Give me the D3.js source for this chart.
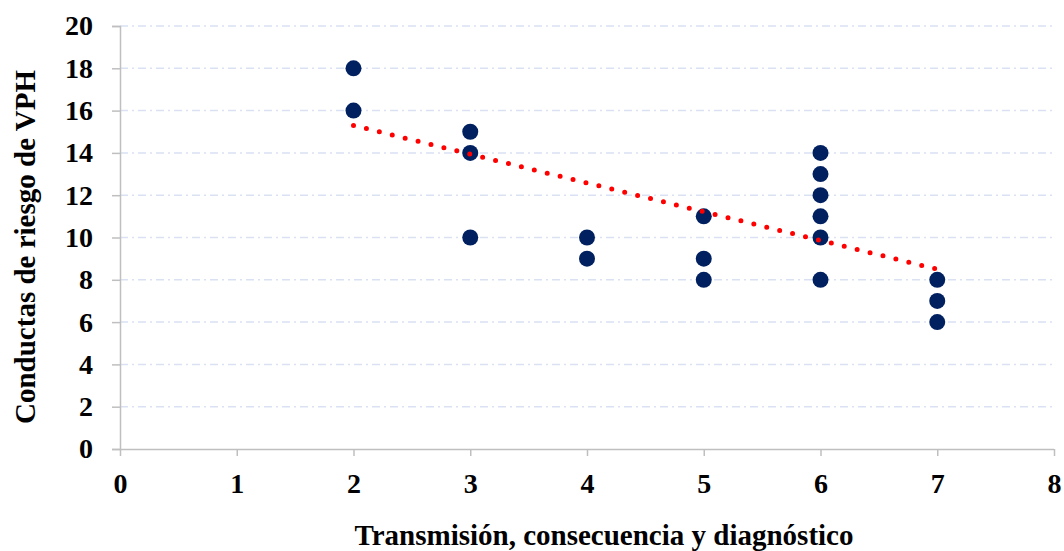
<!DOCTYPE html>
<html>
<head>
<meta charset="utf-8">
<script src="https://cdn.jsdelivr.net/npm/d3@7"></script>
<style>
  body { margin: 0; background: #fff; }
  text { font-family: "Liberation Serif", "Times New Roman", serif; font-weight: bold; fill: #000; }
</style>
</head>
<body>
<svg id="chart" width="1064" height="551"></svg>
<script>
// puntos
const xVals = [2, 2, 3, 3, 3, 4, 4, 5, 5, 5, 6, 6, 6, 6, 6, 6, 7, 7, 7];
const yVals = [18, 16, 15, 14, 10, 10, 9, 11, 9, 8, 14, 13, 12, 11, 10, 8, 8, 7, 6];
// línea de tendencia (extremos estimados)
const trendX = [2, 7];
const trendY = [15.3, 8.5];
const xTicks = [0, 1, 2, 3, 4, 5, 6, 7, 8];
const yTicks = [0, 2, 4, 6, 8, 10, 12, 14, 16, 18, 20];

const svg = d3.select('#chart');
const margin = {left: 120, right: 10, top: 26, bottom: 102};
const W = 1064, H = 551;
const x = d3.scaleLinear().domain([0, 8]).range([margin.left, W - margin.right]);
const y = d3.scaleLinear().domain([0, 20]).range([H - margin.bottom, margin.top]);

// grid
svg.append('g').selectAll('line').data(yTicks.filter(d => d > 0)).enter().append('line')
  .attr('x1', x(0)).attr('x2', x(8))
  .attr('y1', d => y(d)).attr('y2', d => y(d))
  .attr('stroke', '#d9e1f2').attr('stroke-width', 1.5)
  .attr('stroke-dasharray', '8,4,2,4');

// axes
const yAxis = svg.append('g').attr('transform', `translate(${x(0)},0)`)
  .call(d3.axisLeft(y).tickValues(yTicks).tickSize(8).tickPadding(19));
const xAxis = svg.append('g').attr('transform', `translate(0,${y(0)})`)
  .call(d3.axisBottom(x).tickValues(xTicks).tickSize(7).tickPadding(17));
[xAxis, yAxis].forEach(a => {
  a.select('.domain').attr('stroke', '#bfbfbf').attr('stroke-width', 1.5);
  a.selectAll('.tick line').attr('stroke', '#bfbfbf').attr('stroke-width', 1.5);
  a.selectAll('.tick text').style('font-family', '"Liberation Serif", serif')
    .style('font-weight', 'bold').style('font-size', '28px').attr('fill', '#000');
});
xAxis.select('.domain').attr('d', `M${x(0)},0.5H${x(8)}`);

// points
const pts = xVals.map((v, i) => ({x: v, y: yVals[i]}));
svg.append('g').selectAll('circle').data(pts).enter().append('circle')
  .attr('cx', d => x(d.x)).attr('cy', d => y(d.y)).attr('r', 8)
  .attr('fill', '#002060');

// trend
svg.append('path')
  .datum(trendX.map((v, i) => [v, trendY[i]]))
  .attr('d', d3.line().x(d => x(d[0])).y(d => y(d[1])))
  .attr('fill', 'none').attr('stroke', '#ff0000').attr('stroke-width', 5)
  .attr('stroke-linecap', 'round').attr('stroke-dasharray', '0,13.3');

// titles
svg.append('text').attr('x', 604).attr('y', 545).attr('text-anchor', 'middle')
  .style('font-size', '29px').text('Transmisión, consecuencia y diagnóstico');
svg.append('text').attr('transform', `translate(35,247) rotate(-90)`)
  .attr('text-anchor', 'middle').style('font-size', '29px').text('Conductas de riesgo de VPH');
</script>
</body>
</html>
